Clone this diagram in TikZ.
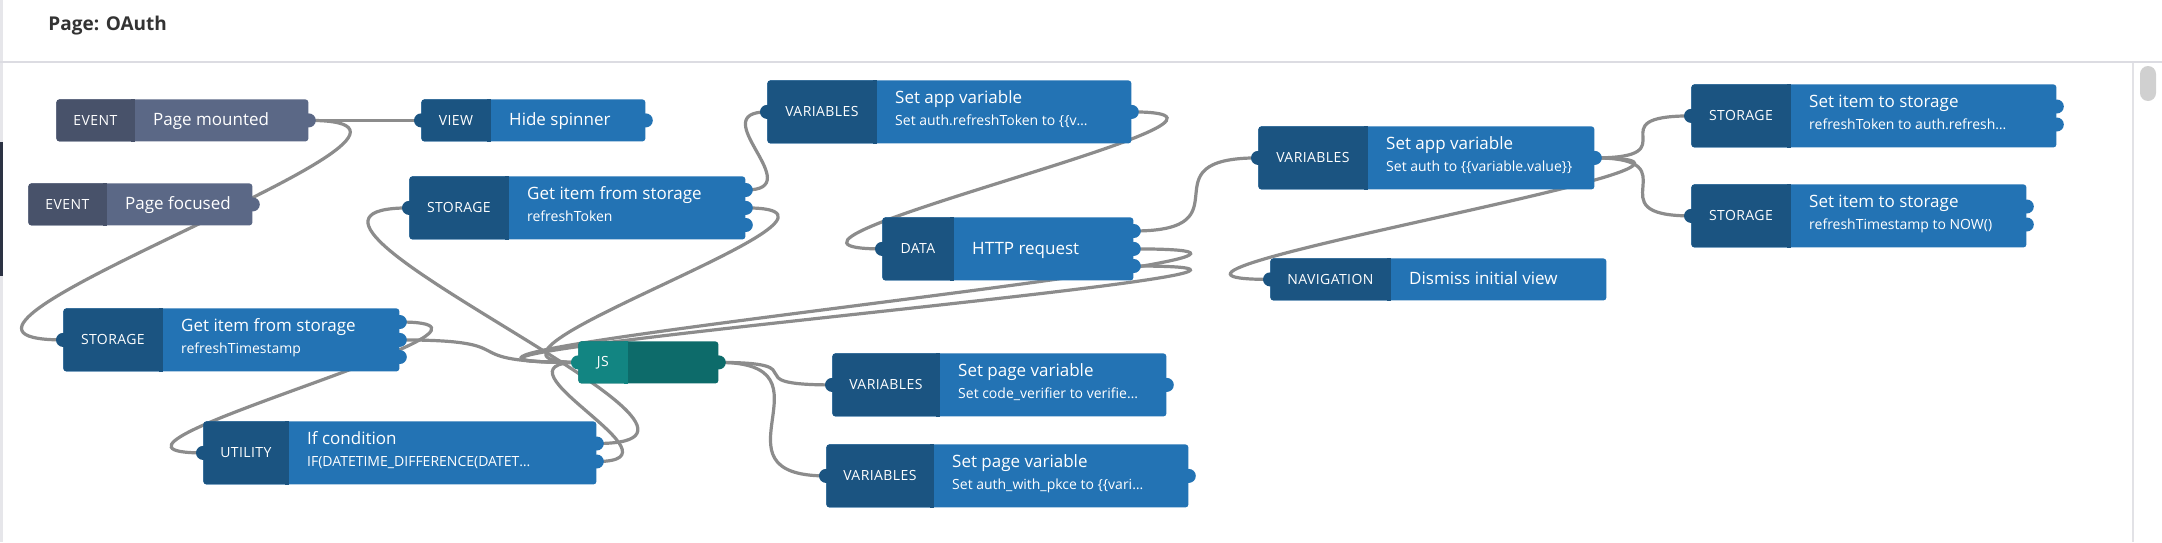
\documentclass[tikz,border=0pt]{standalone}
\usepackage{fontspec}
\setmainfont{Open Sans}
\newfontfamily\flcatfam[LetterSpace=3]{Open Sans}
\usetikzlibrary{calc}
\pgfdeclarelayer{backdrop}
\pgfdeclarelayer{bg}
\pgfsetlayers{backdrop,bg,main}
\definecolor{kbluedark}{HTML}{1B5481}
\definecolor{kbluelight}{HTML}{2373B4}
\definecolor{keventdark}{HTML}{48526A}
\definecolor{keventlight}{HTML}{5B6886}
\definecolor{ktealdark}{HTML}{128582}
\definecolor{kteallight}{HTML}{0D6B6A}
\definecolor{wirecol}{HTML}{8C8C8C}
\definecolor{headcol}{HTML}{333333}
\definecolor{sepcol}{HTML}{DCDCE2}
\definecolor{edgecol}{HTML}{E6E6EA}
\definecolor{barcol}{HTML}{2C3344}
\definecolor{thumbcol}{HTML}{D0D0D0}
\definecolor{scrollcol}{HTML}{E2E2E6}
\newcommand{\flttlfont}{\fontsize{8.5pt}{10pt}\selectfont}
\newcommand{\flsubfont}{\fontsize{7pt}{8.5pt}\selectfont}
\newcommand{\flcatfont}{\flcatfam\fontsize{7pt}{8.5pt}\selectfont}
\newcommand{\flheadfont}{\bfseries\fontsize{9.5pt}{11pt}\selectfont}
% #1 name, #2 x, #3 y, #4 w, #5 h, #6 category width, #7 kind, #8 category text
\newcommand{\flowbox}[8]{%
  \node[boxbody, fill=#7light, minimum width=#4*0.5pt, minimum height=#5*0.5pt] (#1) at (#2,#3) {};
  \node[boxcat, fill=#7dark, minimum width=#6*0.5pt, minimum height=#5*0.5pt] (#1-cat) at (#1.north west) {#8};
  \fill[#7dark] ([xshift=-2pt]#1-cat.north east) rectangle (#1-cat.south east);
}
\begin{document}
\begin{tikzpicture}[x=0.5pt,y=-0.5pt,
  boxbody/.style={rectangle, rounded corners=1.5pt, inner sep=0pt, anchor=north west},
  boxcat/.style={rectangle, rounded corners=1.5pt, inner sep=0pt, anchor=north west, text=white, font=\flcatfont},
  port/.style={circle, inner sep=0pt, minimum size=7pt},
  flttl/.style={anchor=base west, inner sep=0pt, text=white, font=\flttlfont},
  flsub/.style={anchor=base west, inner sep=0pt, text=white, font=\flsubfont},
  wire/.style={draw=wirecol, line width=1.6pt}]
\useasboundingbox (0,0) rectangle (2162,542);
\begin{pgfonlayer}{backdrop}
\fill[white] (0,0) rectangle (2162,542);
% page chrome
\fill[edgecol] (0,0) rectangle (2.5,542);
\fill[barcol] (0,142) rectangle (3,276);
\draw[sepcol, line width=1.2pt] (0,62) -- (2162,62);
\draw[scrollcol, line width=0.8pt] (2133,63) -- (2133,542);
\fill[thumbcol, rounded corners=4pt] (2140,66) rectangle (2156,101);
\end{pgfonlayer}
\node[anchor=base west, inner sep=0pt, text=headcol, font=\flheadfont] (title) at (48,30.7) {Page: OAuth};

% nodes
\flowbox{pm}{56}{99}{252}{42}{78}{kevent}{EVENT}
\node[flttl] (pm-t) at ($(pm-cat.east)+(18,5)$) {Page mounted};
\node[port,fill=keventlight] (pm-o) at (pm.east) {};

\flowbox{pf}{28}{183}{224}{42}{78}{kevent}{EVENT}
\node[flttl] (pf-t) at ($(pf-cat.east)+(18,5)$) {Page focused};
\node[port,fill=keventlight] (pf-o) at (pf.east) {};

\flowbox{hs}{421}{99}{224}{42}{69}{kblue}{VIEW}
\node[flttl] (hs-t) at ($(hs-cat.east)+(18,5)$) {Hide spinner};
\node[port,fill=kbluedark] (hs-i) at (hs.west) {};
\node[port,fill=kbluelight] (hs-o) at (hs.east) {};

\flowbox{st1}{409}{176}{336}{63}{99}{kblue}{STORAGE}
\node[flttl] (st1-t) at ($(st1-cat.north east)+(18,23.8)$) {Get item from storage};
\node[flsub] (st1-s) at ($(st1-cat.north east)+(18,45.2)$) {refreshToken};
\node[port,fill=kbluedark] (st1-i) at (st1.west) {};
\node[port,fill=kbluelight] (st1-o1) at ($(st1.north east)+(0,14)$) {};
\node[port,fill=kbluelight] (st1-o2) at (st1.east) {};
\node[port,fill=kbluelight] (st1-o3) at ($(st1.north east)+(0,49)$) {};

\flowbox{st2}{63}{308}{336}{63}{99}{kblue}{STORAGE}
\node[flttl] (st2-t) at ($(st2-cat.north east)+(18,23.8)$) {Get item from storage};
\node[flsub] (st2-s) at ($(st2-cat.north east)+(18,45.2)$) {refreshTimestamp};
\node[port,fill=kbluedark] (st2-i) at (st2.west) {};
\node[port,fill=kbluelight] (st2-o1) at ($(st2.north east)+(0,14)$) {};
\node[port,fill=kbluelight] (st2-o2) at (st2.east) {};
\node[port,fill=kbluelight] (st2-o3) at ($(st2.north east)+(0,49)$) {};

\flowbox{ut}{203}{421}{393}{63}{85}{kblue}{UTILITY}
\node[flttl] (ut-t) at ($(ut-cat.north east)+(18,23.8)$) {If condition};
\node[flsub] (ut-s) at ($(ut-cat.north east)+(18,45.2)$) {IF(DATETIME\_DIFFERENCE(DATET…};
\node[port,fill=kbluedark] (ut-i) at (ut.west) {};
\node[port,fill=kbluelight] (ut-o1) at ($(ut.north east)+(0,22.5)$) {};
\node[port,fill=kbluelight] (ut-o2) at ($(ut.north east)+(0,40.5)$) {};

\flowbox{js}{578}{341}{140}{42}{49}{kteal}{JS}
\node[port,fill=ktealdark] (js-i) at (js.west) {};
\node[port,fill=kteallight] (js-o) at (js.east) {};

\flowbox{va1}{767}{80}{364}{63}{109}{kblue}{VARIABLES}
\node[flttl] (va1-t) at ($(va1-cat.north east)+(18,23.8)$) {Set app variable};
\node[flsub] (va1-s) at ($(va1-cat.north east)+(18,45.2)$) {Set auth.refreshToken to \{\{v…};
\node[port,fill=kbluedark] (va1-i) at (va1.west) {};
\node[port,fill=kbluelight] (va1-o) at (va1.east) {};

\flowbox{http}{882}{217}{251}{63}{71}{kblue}{DATA}
\node[flttl] (http-t) at ($(http-cat.east)+(18,5.5)$) {HTTP request};
\node[port,fill=kbluedark] (http-i) at (http.west) {};
\node[port,fill=kbluelight] (http-o1) at ($(http.north east)+(0,14)$) {};
\node[port,fill=kbluelight] (http-o2) at (http.east) {};
\node[port,fill=kbluelight] (http-o3) at ($(http.north east)+(0,49)$) {};

\flowbox{va2}{1258}{126}{336}{63}{109}{kblue}{VARIABLES}
\node[flttl] (va2-t) at ($(va2-cat.north east)+(18,23.8)$) {Set app variable};
\node[flsub] (va2-s) at ($(va2-cat.north east)+(18,45.2)$) {Set auth to \{\{variable.value\}\}};
\node[port,fill=kbluedark] (va2-i) at (va2.west) {};
\node[port,fill=kbluelight] (va2-o) at (va2.east) {};

\flowbox{nav}{1270}{258}{336}{42}{120}{kblue}{NAVIGATION}
\node[flttl] (nav-t) at ($(nav-cat.east)+(18,5)$) {Dismiss initial view};
\node[port,fill=kbluedark] (nav-i) at (nav.west) {};

\flowbox{sts1}{1691}{84}{365}{63}{99}{kblue}{STORAGE}
\node[flttl] (sts1-t) at ($(sts1-cat.north east)+(18,23.8)$) {Set item to storage};
\node[flsub] (sts1-s) at ($(sts1-cat.north east)+(18,45.2)$) {refreshToken to auth.refresh…};
\node[port,fill=kbluedark] (sts1-i) at (sts1.west) {};
\node[port,fill=kbluelight] (sts1-o1) at ($(sts1.north east)+(0,22.5)$) {};
\node[port,fill=kbluelight] (sts1-o2) at ($(sts1.north east)+(0,40.5)$) {};

\flowbox{sts2}{1691}{184}{335}{63}{99}{kblue}{STORAGE}
\node[flttl] (sts2-t) at ($(sts2-cat.north east)+(18,23.8)$) {Set item to storage};
\node[flsub] (sts2-s) at ($(sts2-cat.north east)+(18,45.2)$) {refreshTimestamp to NOW()};
\node[port,fill=kbluedark] (sts2-i) at (sts2.west) {};
\node[port,fill=kbluelight] (sts2-o1) at ($(sts2.north east)+(0,22.5)$) {};
\node[port,fill=kbluelight] (sts2-o2) at ($(sts2.north east)+(0,40.5)$) {};

\flowbox{pv1}{832}{353}{334}{63}{107}{kblue}{VARIABLES}
\node[flttl] (pv1-t) at ($(pv1-cat.north east)+(18,23.8)$) {Set page variable};
\node[flsub] (pv1-s) at ($(pv1-cat.north east)+(18,45.2)$) {Set code\_verifier to verifie…};
\node[port,fill=kbluedark] (pv1-i) at (pv1.west) {};
\node[port,fill=kbluelight] (pv1-o) at (pv1.east) {};

\flowbox{pv2}{826}{444}{362}{63}{107}{kblue}{VARIABLES}
\node[flttl] (pv2-t) at ($(pv2-cat.north east)+(18,23.8)$) {Set page variable};
\node[flsub] (pv2-s) at ($(pv2-cat.north east)+(18,45.2)$) {Set auth\_with\_pkce to \{\{vari…};
\node[port,fill=kbluedark] (pv2-i) at (pv2.west) {};
\node[port,fill=kbluelight] (pv2-o) at (pv2.east) {};

% connectors
\begin{pgfonlayer}{bg}
\draw[wire] (pm-o.center) .. controls +(101,0) and +(-101,0) .. (hs-i.center);
\draw[wire] (pm-o.center) .. controls +(210,0) and +(-210,0) .. (st2-i.center);
\draw[wire] (st2-o1.center) .. controls +(163,0) and +(-163,0) .. (ut-i.center);
\draw[wire] (st2-o2.center) .. controls +(135,0) and +(-135,0) .. (js-i.center);
\draw[wire] (ut-o1.center) .. controls +(196,0) and +(-196,0) .. (st1-i.center);
\draw[wire] (ut-o2.center) .. controls +(96,0) and +(-96,0) .. (js-i.center);
\draw[wire] (st1-o1.center) .. controls +(65,0) and +(-65,0) .. (va1-i.center);
\draw[wire] (st1-o2.center) .. controls +(159,0) and +(-159,0) .. (js-i.center);
\draw[wire] (va1-o.center) .. controls +(187,0) and +(-187,0) .. (http-i.center);
\draw[wire] (http-o1.center) .. controls +(117,0) and +(-117,0) .. (va2-i.center);
\draw[wire] (http-o2.center) .. controls +(328,0) and +(-328,0) .. (js-i.center);
\draw[wire] (http-o3.center) .. controls +(327,0) and +(-327,0) .. (js-i.center);
\draw[wire] (va2-o.center) .. controls +(98,0) and +(-98,0) .. (sts1-i.center);
\draw[wire] (va2-o.center) .. controls +(101,0) and +(-101,0) .. (sts2-i.center);
\draw[wire] (va2-o.center) .. controls +(218,0) and +(-218,0) .. (nav-i.center);
\draw[wire] (js-o.center) .. controls +(103,0) and +(-103,0) .. (pv1-i.center);
\draw[wire] (js-o.center) .. controls +(123,0) and +(-123,0) .. (pv2-i.center);
\end{pgfonlayer}
\end{tikzpicture}
\end{document}
